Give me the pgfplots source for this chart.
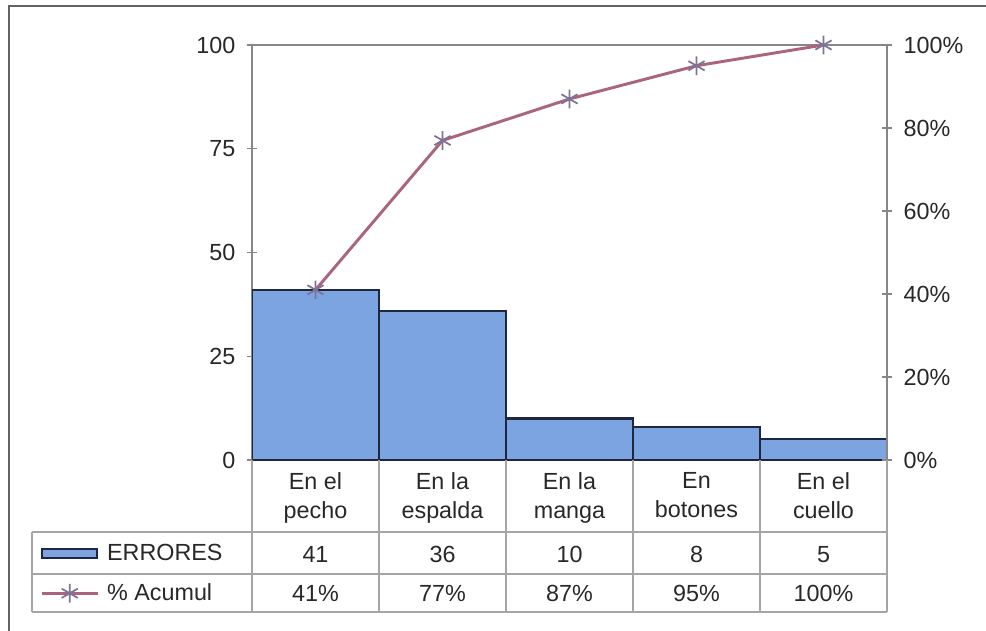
\documentclass[border=0pt]{standalone}
\usepackage{pgfplots}
\pgfplotsset{compat=1.18}
\usepackage{fontspec}
\setmainfont{Liberation Sans}
\definecolor{barfill}{RGB}{124,164,224}
\definecolor{baredge}{RGB}{30,38,64}
\definecolor{linec}{RGB}{170,100,125}
\definecolor{starc}{RGB}{125,115,150}
\definecolor{axc}{RGB}{135,135,135}
\definecolor{gridc}{RGB}{165,165,165}
\definecolor{txt}{RGB}{40,40,40}
\definecolor{framec}{RGB}{100,100,100}
\newcommand\fs{\fontsize{17.5}{21.75}\selectfont}
\pgfplotsset{
  my line legend/.style={legend image code/.code={%
    \draw[mark repeat=2, mark phase=2, ##1] plot coordinates {(0pt,0pt) (21pt,0pt) (42pt,0pt)};}},
  my bar legend/.style={legend image code/.code={%
    \draw[fill=barfill, draw=baredge, line width=1.6pt] (0pt,-3.5pt) rectangle (41.25pt,3.5pt);}},
}
\begin{document}
\begin{tikzpicture}
\useasboundingbox (0,0) rectangle (739.5pt,-473.25pt);
\pgfplotsset{every axis/.append style={
  at={(189pt,-345pt)}, anchor=south west, scale only axis,
  width=476.25pt, height=311.25pt,
  xmin=-0.5, xmax=4.5, ymin=0, ymax=100,
  axis line style={draw=axc, line width=0.8pt},
  tick style={draw=axc, line width=0.8pt}, tick align=center, major tick length=8pt,
  every tick label/.append style={font=\fs, text=txt},
  /pgf/number format/assume math mode=true,
}}
\begin{axis}[
  ytick={0,25,50,75,100}, ytick pos=left, yticklabel style={xshift=-5pt},
  xtick={0,1,2,3,4},
  xticklabels={{En el\\pecho},{En la\\espalda},{En la\\manga},{En\\botones},{En el\\cuello}},
  xticklabel style={align=center, anchor=north, yshift=-2pt},
  x tick style={draw=none}, xtick pos=bottom,
]
\addplot[ybar, bar width=1, bar shift=0pt, fill=barfill, draw=baredge, line width=1.6pt]
  coordinates {(0,41) (1,36) (2,10) (3,8) (4,5)};
\end{axis}
\begin{axis}[
  axis y line*=right, axis x line=none,
  ytick={0,20,40,60,80,100}, yticklabel={\pgfmathprintnumber{\tick}\%},
  yticklabel style={xshift=5pt}, clip=false,
  legend cell align=left,
  legend style={at={(-0.3339,-0.1759)}, anchor=north west, draw=none, fill=none,
    inner sep=0pt, row sep=0pt, column sep=6pt, font=\fs, text=txt,
    nodes={inner sep=0pt, minimum height=30pt}},
]
\addlegendimage{my bar legend}
\addlegendentry{ERRORES}
\addplot[color=linec, line width=2.2pt, mark=asterisk, mark size=7pt,
  mark options={draw=starc, line width=1.3pt}, my line legend]
  coordinates {(0,41) (1,77) (2,87) (3,95) (4,100)};
\addlegendentry{\% Acumul}
\end{axis}
\begin{scope}[x=0.75pt,y=-0.75pt]
\draw[framec, line width=1.5pt] (9,631) -- (9,6) -- (986,6);
\draw[gridc, line width=0.8pt] (32,532) -- (887,532) (32,574) -- (887,574)
  (32,612) -- (887,612) (32,532) -- (32,612);
\foreach \x in {252,379,506,633,760,887} \draw[gridc, line width=0.8pt] (\x,460) -- (\x,612);
\foreach \x/\a in {315.5/41,442.5/36,569.5/10,696.5/8,823.5/5}
  \node[font=\fs, text=txt, anchor=base, inner sep=0pt] at (\x,562) {\a};
\foreach \x/\a in {315.5/41,442.5/77,569.5/87,696.5/95,823.5/100}
  \node[font=\fs, text=txt, anchor=base, inner sep=0pt] at (\x,601) {\a\%};
\end{scope}
\end{tikzpicture}
\end{document}
